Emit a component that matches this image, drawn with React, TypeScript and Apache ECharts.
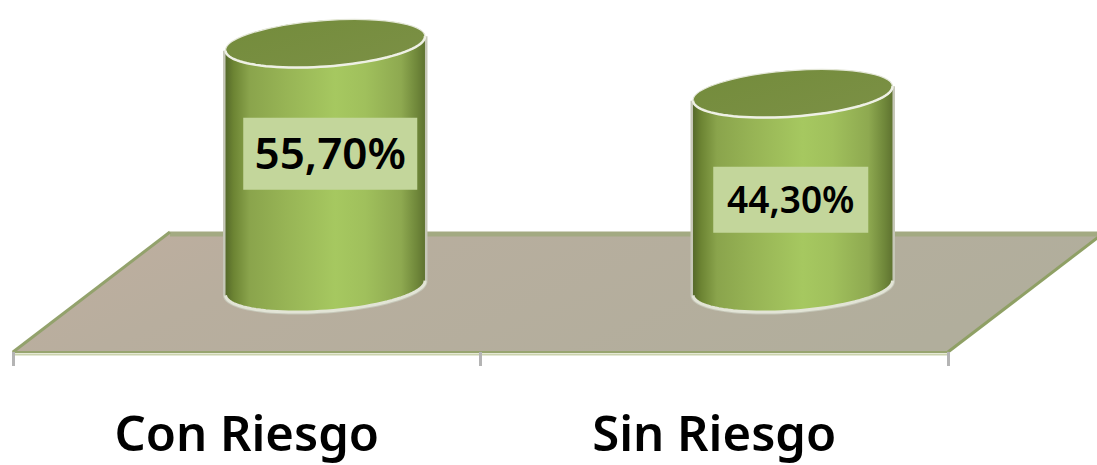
import React, { useEffect, useRef } from "react";
import * as echarts from "echarts";

const categories = ["Con Riesgo", "Sin Riesgo"];
const riskValues = [55.7, 44.3];

// Presentation only: data-label boxes, relative to the column's centre.
const labelFontSizes = [44, 37];
const labelBoxes = [
  { dx: 5, dy: -12, w: 174, h: 72, textDy: -2 },
  { dx: -2, dy: 9, w: 155, h: 66, textDy: -1 },
];

const FONT = '"Noto Sans", sans-serif';
const DEPTH_X = 157;
const DEPTH_Y = 120;
const RX_RATIO = 0.2139;
const RY = 23;
const TILT = (4.2 * Math.PI) / 180;

function ellipsePoint(cx: number, cy: number, rx: number, ry: number, t: number): number[] {
  const c = Math.cos(t);
  const s = Math.sin(t);
  return [
    cx + rx * c * Math.cos(TILT) + ry * s * Math.sin(TILT),
    cy + ry * s * Math.cos(TILT) - rx * c * Math.sin(TILT),
  ];
}

function arc(cx: number, cy: number, rx: number, ry: number, from: number, to: number): number[][] {
  const out: number[][] = [];
  const steps = 48;
  for (let i = 0; i <= steps; i++) {
    out.push(ellipsePoint(cx, cy, rx, ry, from + ((to - from) * i) / steps));
  }
  return out;
}

function renderFloor(params: any) {
  const g = params.coordSys;
  const bottom = g.y + g.height;
  const backY = bottom - DEPTH_Y;
  const left = g.x;
  const right = g.x + g.width;
  return {
    type: "group",
    children: [
      {
        type: "polygon",
        shape: {
          points: [
            [left, bottom],
            [left + DEPTH_X, backY],
            [right + DEPTH_X, backY],
            [right, bottom],
          ],
        },
        style: {
          fill: new echarts.graphic.LinearGradient(0, 0, 1, 0.25, [
            { offset: 0, color: "#bfae9f" },
            { offset: 0.3, color: "#b8ae9e" },
            { offset: 1, color: "#b1ae9c" },
          ]),
        },
      },
      {
        type: "polyline",
        shape: { points: [[left + DEPTH_X, backY + 2], [right + DEPTH_X, backY + 2]] },
        style: { stroke: "#a3aa82", lineWidth: 5, fill: "none" },
      },
      {
        type: "polyline",
        shape: { points: [[left, bottom], [left + DEPTH_X, backY]] },
        style: { stroke: "#93a26c", lineWidth: 3, fill: "none" },
      },
      {
        type: "polyline",
        shape: { points: [[right, bottom], [right + DEPTH_X, backY]] },
        style: { stroke: "#8fa065", lineWidth: 3, fill: "none" },
      },
      {
        type: "polyline",
        shape: { points: [[left, bottom + 2.5], [right, bottom + 2.5]] },
        style: { stroke: "#cbd3ad", lineWidth: 2, fill: "none" },
      },
    ],
  };
}

function renderCylinder(params: any, api: any) {
  const idx = params.dataIndex;
  const value = api.value(1);
  const base = api.coord([api.value(0), 0]);
  const top = api.coord([api.value(0), value]);
  const rx = api.size([1, 0])[0] * RX_RATIO;
  const cx = base[0] + DEPTH_X / 2;
  const baseY = base[1] - DEPTH_Y / 2 - 4;
  const topY = top[1] - DEPTH_Y / 2 - 4;

  const lowerBottom = arc(cx, baseY, rx, RY, Math.PI, 0);
  const upperTop = arc(cx, topY, rx, RY, 0, -Math.PI);
  const lowerTop = arc(cx, topY, rx, RY, Math.PI, 0);
  const outline = [...lowerBottom, ...upperTop];
  const sides = [lowerTop[0], ...lowerBottom, lowerTop[lowerTop.length - 1]];

  const box = labelBoxes[idx];
  const midY = (topY + baseY) / 2 + box.dy;
  const midX = cx + box.dx;

  return {
    type: "group",
    children: [
      {
        type: "polyline",
        shape: { points: sides },
        style: { fill: "none", stroke: "#c6c7b8", lineWidth: 5 },
      },
      {
        type: "polygon",
        shape: { points: outline },
        style: {
          fill: new echarts.graphic.LinearGradient(0, 0, 1, 0, [
            { offset: 0, color: "#55692a" },
            { offset: 0.04, color: "#6c8433" },
            { offset: 0.12, color: "#8aa44c" },
            { offset: 0.3, color: "#97b455" },
            { offset: 0.55, color: "#a6c860" },
            { offset: 0.7, color: "#a0c05c" },
            { offset: 0.88, color: "#8ea950" },
            { offset: 0.96, color: "#6f873a" },
            { offset: 1, color: "#5f7330" },
          ]),
        },
      },
      {
        type: "polyline",
        shape: { points: lowerBottom },
        style: { fill: "none", stroke: "#e2e4d6", lineWidth: 3 },
      },
      {
        type: "ellipse",
        x: cx,
        y: topY,
        rotation: TILT,
        shape: { cx: 0, cy: 0, rx, ry: RY },
        style: {
          fill: new echarts.graphic.LinearGradient(0, 0, 1, 1, [
            { offset: 0, color: "#748c3c" },
            { offset: 1, color: "#7b9045" },
          ]),
          stroke: "#e4e7d8",
          lineWidth: 1.2,
        },
      },
      {
        type: "polyline",
        shape: { points: lowerTop },
        style: { fill: "none", stroke: "#eef0e4", lineWidth: 2.5 },
      },
      {
        type: "rect",
        shape: { x: midX - box.w / 2, y: midY - box.h / 2, width: box.w, height: box.h },
        style: { fill: "#c3d69b" },
      },
      {
        type: "text",
        x: midX,
        y: midY + box.textDy,
        style: {
          text: value.toFixed(2).replace(".", ",") + "%",
          fontFamily: FONT,
          fontWeight: 600,
          fontSize: labelFontSizes[idx],
          fill: "#000000",
          align: "center",
          verticalAlign: "middle",
        },
      },
    ],
  };
}

export default function App() {
  const ref = useRef<HTMLDivElement>(null);

  useEffect(() => {
    document.body.style.margin = "0";
    const chart = echarts.init(ref.current!, null, { renderer: "svg" });
    chart.setOption({
      animation: false,
      backgroundColor: "#ffffff",
      grid: { left: 13, width: 935, bottom: 113, height: 263.4 },
      xAxis: {
        type: "category",
        data: categories,
        z: 5,
        axisLine: { show: true, lineStyle: { color: "#98a570", width: 2 } },
        axisTick: { show: true, length: 14, lineStyle: { color: "#b4b4b4", width: 3 } },
        axisLabel: {
          margin: 55,
          fontFamily: FONT,
          fontWeight: 600,
          fontSize: 49,
          color: "#000000",
        },
      },
      yAxis: { type: "value", min: 0, max: 60, show: false, splitLine: { show: false } },
      series: [
        {
          type: "custom",
          z: 1,
          clip: false,
          silent: true,
          coordinateSystem: "cartesian2d",
          data: [[0, 0]],
          renderItem: renderFloor,
        },
        {
          type: "custom",
          z: 2,
          clip: false,
          silent: true,
          coordinateSystem: "cartesian2d",
          data: categories.map((_, i) => [i, riskValues[i]]),
          encode: { x: 0, y: 1 },
          renderItem: renderCylinder,
        },
      ],
    });
    return () => chart.dispose();
  }, []);

  return <div ref={ref} style={{ width: 1097, height: 465 }} />;
}
